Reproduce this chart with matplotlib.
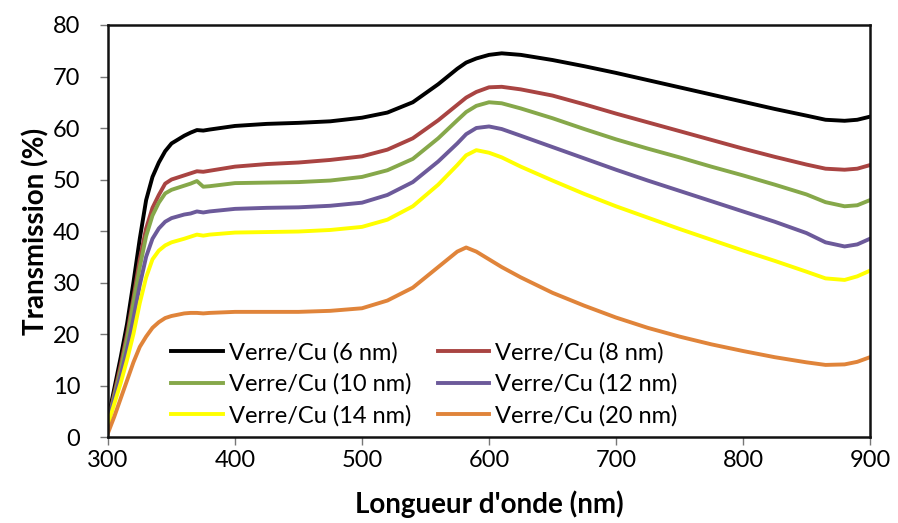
import matplotlib.pyplot as plt

plt.rcParams['font.family'] = ['Lato', 'DejaVu Sans']

wl = [300, 305, 310, 315, 320, 325, 330, 335, 340, 345, 350, 360, 365, 370, 375, 380,
      400, 425, 450, 475, 500, 520, 540, 560, 575, 582, 590, 600, 610, 625, 650, 675, 700,
      725, 750, 775, 800, 825, 850, 865, 880, 890, 900]

t_6nm = [3.5, 9.5, 15.5, 22, 30, 38.5, 46, 50.5, 53.3, 55.5, 57, 58.5, 59.1, 59.6, 59.5, 59.7,
         60.4, 60.8, 61.0, 61.3, 62.0, 63.0, 65.0, 68.5, 71.5, 72.7, 73.5, 74.2, 74.5, 74.2, 73.2, 72.0, 70.7,
         69.3, 67.9, 66.5, 65.1, 63.7, 62.4, 61.6, 61.4, 61.6, 62.2]
t_8nm = [3, 8.5, 14, 20, 27, 34.5, 40.5, 44.5, 47, 49.2, 50, 50.8, 51.2, 51.6, 51.5, 51.7,
         52.5, 53.0, 53.3, 53.8, 54.5, 55.8, 58.0, 61.5, 64.5, 65.9, 67.0, 67.9, 68.0, 67.5, 66.3, 64.6, 62.8,
         61.1, 59.4, 57.7, 56.0, 54.4, 52.9, 52.1, 51.9, 52.1, 52.8]
t_10nm = [3, 8, 13, 19, 26, 33, 39, 43, 45.5, 47.3, 48, 48.8, 49.2, 49.7, 48.6, 48.7,
          49.3, 49.4, 49.5, 49.8, 50.5, 51.8, 54.0, 58.0, 61.5, 63.1, 64.3, 65.0, 64.8, 63.8, 61.9, 59.8, 57.8,
          56.0, 54.3, 52.5, 50.8, 49.0, 47.1, 45.6, 44.8, 45.0, 46.0]
t_12nm = [3, 7.5, 12, 17, 23, 29.5, 35, 38.5, 40.5, 41.8, 42.5, 43.2, 43.4, 43.8, 43.6, 43.8,
          44.3, 44.5, 44.6, 44.9, 45.5, 47.0, 49.5, 53.5, 57.0, 58.8, 60.0, 60.3, 59.8, 58.5, 56.3, 54.1, 51.9,
          49.8, 47.8, 45.8, 43.8, 41.8, 39.6, 37.8, 37.0, 37.4, 38.5]
t_14nm = [2.5, 6.5, 10.5, 15, 20, 26, 31, 34.5, 36.2, 37.2, 37.8, 38.5, 38.9, 39.3, 39.1, 39.3,
          39.7, 39.8, 39.9, 40.2, 40.8, 42.2, 44.8, 49.0, 52.8, 54.7, 55.7, 55.2, 54.3, 52.5, 49.8, 47.2, 44.8,
          42.6, 40.4, 38.3, 36.2, 34.2, 32.1, 30.8, 30.5, 31.2, 32.3]
t_20nm = [0.8, 4, 7.5, 11, 14.5, 17.5, 19.5, 21.2, 22.3, 23.1, 23.5, 24, 24.1, 24.1, 24.0, 24.1,
          24.3, 24.3, 24.3, 24.5, 25.0, 26.5, 29.0, 33.0, 36.0, 36.8, 36.0, 34.5, 33.0, 31.0, 28.0, 25.5, 23.2,
          21.2, 19.5, 18.0, 16.7, 15.5, 14.5, 14.0, 14.1, 14.6, 15.5]

series = [t_6nm, t_8nm, t_10nm, t_12nm, t_14nm, t_20nm]
labels = ['Verre/Cu (6 nm)', 'Verre/Cu (8 nm)', 'Verre/Cu (10 nm)',
          'Verre/Cu (12 nm)', 'Verre/Cu (14 nm)', 'Verre/Cu (20 nm)']
colors = ['#000000', '#A94442', '#86A84A', '#6C5A9A', '#FFFF00', '#E0843A']

fig = plt.figure(figsize=(8.98, 5.23), dpi=100)
ax = fig.add_axes([0.1203, 0.1644, 0.8485, 0.7878])

for y, lab, c in zip(series, labels, colors):
  ax.plot(wl, y, color=c, lw=2.8, label=lab, solid_joinstyle='round')

ax.set_xlim(300, 900)
ax.set_ylim(0, 80)
ax.set_xticks(range(300, 901, 100))
ax.set_yticks(range(0, 81, 10))
ax.tick_params(labelsize=17, length=6, width=1, direction='out', colors='#777777', labelcolor='black')
ax.tick_params(axis='y', pad=14)
ax.tick_params(axis='x', pad=3)
for s in ax.spines.values():
  s.set_linewidth(1.8)
  s.set_color('#111111')

ax.set_xlabel("Longueur d'onde (nm)", fontsize=20, fontweight='bold', labelpad=14)
ax.set_ylabel('Transmission (%)', fontsize=20, fontweight='bold', labelpad=2)

# row-wise order like the original (6 & 8 on first row, etc.)
h, l = ax.get_legend_handles_labels()
order = [0, 2, 4, 1, 3, 5]
ax.legend([h[i] for i in order], [l[i] for i in order], ncol=2, loc='upper left',
          bbox_to_anchor=(0.055, 0.282), frameon=False, fontsize=17,
          handlelength=2.2, handletextpad=0.25, columnspacing=1.1, labelspacing=0.42)

plt.savefig('out.png', dpi=100)
